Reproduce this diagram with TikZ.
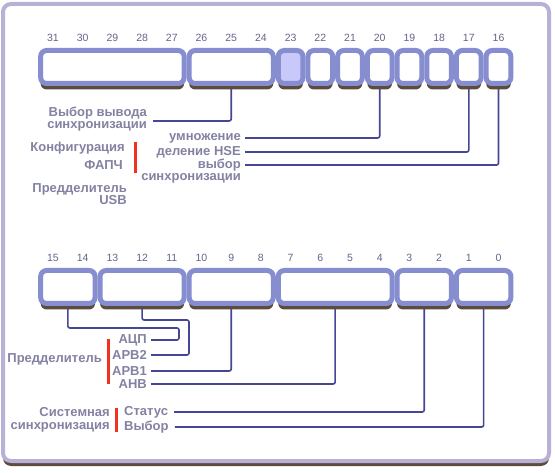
\documentclass[tikz,border=0pt]{standalone}
\usepackage{fontspec}
\setmainfont{Liberation Sans}
\usetikzlibrary{positioning,calc,shadows}
\definecolor{boxBlue}{RGB}{134,142,208}
\definecolor{cellHi}{RGB}{200,200,250}
\definecolor{shadowBrown}{RGB}{92,76,62}
\definecolor{frameLav}{RGB}{184,176,214}
\definecolor{lblGray}{RGB}{132,130,162}
\definecolor{numGray}{RGB}{100,100,140}
\definecolor{wireBlue}{RGB}{70,70,150}
\definecolor{barRed}{RGB}{240,50,30}
\pgfdeclarelayer{bg}
\pgfdeclarelayer{wires}
\pgfsetlayers{bg,wires,main}

\begin{document}
\begin{tikzpicture}[x=1pt, y=-1pt,
    regbox/.style={draw=boxBlue, line width=5pt, rounded corners=6pt, inner sep=0pt, minimum height=33pt,
                   general shadow={fill=shadowBrown, shadow yshift=-6pt}},
    bitnum/.style={font=\fontsize{10.5}{12}\selectfont, text=numGray},
    lbl/.style={font=\bfseries\fontsize{13}{12}\selectfont, text=lblGray, inner sep=0pt, align=right},
    wire/.style={draw=wireBlue, line width=1.6pt, rounded corners=2pt},
    redbar/.style={draw=barRed, line width=3pt},
]
\useasboundingbox (0,0) rectangle (555,473);

% Frame
\begin{pgfonlayer}{bg}
\draw[draw=frameLav, line width=4pt, fill=white, rounded corners=8pt,
      general shadow={fill=shadowBrown, shadow yshift=-5pt}] (3,4) rectangle (549,461);
\end{pgfonlayer}

% Bit numbers
\foreach \i [evaluate=\i as \b using int(31-\i)] in {0,...,15}
  \node[bitnum] (n\b) at ({53+\i*29.7},38) {\b};
\foreach \i [evaluate=\i as \b using int(15-\i)] in {0,...,15}
  \node[bitnum] (n\b) at ({53+\i*29.7},258) {\b};

% Upper register
\foreach \hi/\lo/\col in {31/27/white,26/24/white,23/23/cellHi,22/22/white,21/21/white,
                          20/20/white,19/19/white,18/18/white,17/17/white,16/16/white}{
  \pgfmathsetmacro\cx{53+(62-\hi-\lo)/2*29.7}
  \pgfmathsetmacro\bw{(\hi-\lo+1)*29.7-5}
  \node[regbox, fill=\col, minimum width=\bw pt] (g\hi) at (\cx,67) {};
}

% Lower register
\foreach \hi/\lo in {15/14,13/11,10/8,7/4,3/2,1/0}{
  \pgfmathsetmacro\cx{53+(30-\hi-\lo)/2*29.7}
  \pgfmathsetmacro\bw{(\hi-\lo+1)*29.7-5}
  \node[regbox, fill=white, minimum width=\bw pt] (g\hi) at (\cx,287) {};
}

% Upper labels
\node[lbl, anchor=east] (mco) at (147,119) {Выбор вывода\\синхронизации};
\node[lbl, anchor=east] (cfg) at (125,148) {Конфигурация};
\node[lbl, anchor=east] (pll) at (123,165) {ФАПЧ};
\node[lbl, anchor=east] (usb) at (127,194) {Предделитель\\USB};
\node[lbl, anchor=east] (mul) at (241,138) {умножение};
\node[lbl, anchor=east] (xtpre) at (241,152) {деление HSE};
\node[lbl, anchor=north east] (src) at (241,159) {выбор\\синхронизации};
\draw[redbar] (135,142) -- (135,173);

% Lower labels
\node[lbl, anchor=east] (adc) at (147,340) {АЦП};
\node[lbl, anchor=east] (apb2) at (147,355) {АРВ2};
\node[lbl, anchor=east] (apb1) at (147,371) {АРВ1};
\node[lbl, anchor=east] (ahb) at (147,384) {АНВ};
\node[lbl, anchor=east] (pre) at (102,359) {Предделитель};
\node[lbl, anchor=east] (sys) at (110,412) {Системная};
\node[lbl, anchor=east] (sys2) at (110,427) {синхронизация};
\node[lbl, anchor=west] (sws) at (124,412) {Статус};
\node[lbl, anchor=west] (sw) at (124,427) {Выбор};
\draw[redbar] (108,339) -- (108,384);
\draw[redbar] (116,408) -- (116,432);

% Connectors
\begin{pgfonlayer}{wires}
\draw[wire] (n25 |- g26.south) |- ([xshift=6pt,yshift=-2pt]mco.east);
\draw[wire] (n20 |- g20.south) |- ([xshift=4pt]mul.east);
\draw[wire] (n17 |- g17.south) |- ([xshift=4pt]xtpre.east);
\draw[wire] (n16 |- g16.south) |- ([xshift=4pt,yshift=-6pt]src.north east);
\draw[wire] (g15.south) |- ($(adc.east)+(32,-12)$) |- ([xshift=4pt]adc.east);
\draw[wire] (n12 |- g13.south) |- ($(apb2.east)+(42,-35)$) |- ([xshift=4pt]apb2.east);
\draw[wire] (n9 |- g10.south) |- ([xshift=4pt]apb1.east);
\draw[wire] (g7.south) |- ([xshift=4pt]ahb.east);
\draw[wire] (g3.south) |- ([xshift=6pt]sws.east);
\draw[wire] (g1.south) |- ([xshift=6pt]sw.east);
\end{pgfonlayer}
\end{tikzpicture}
\end{document}
